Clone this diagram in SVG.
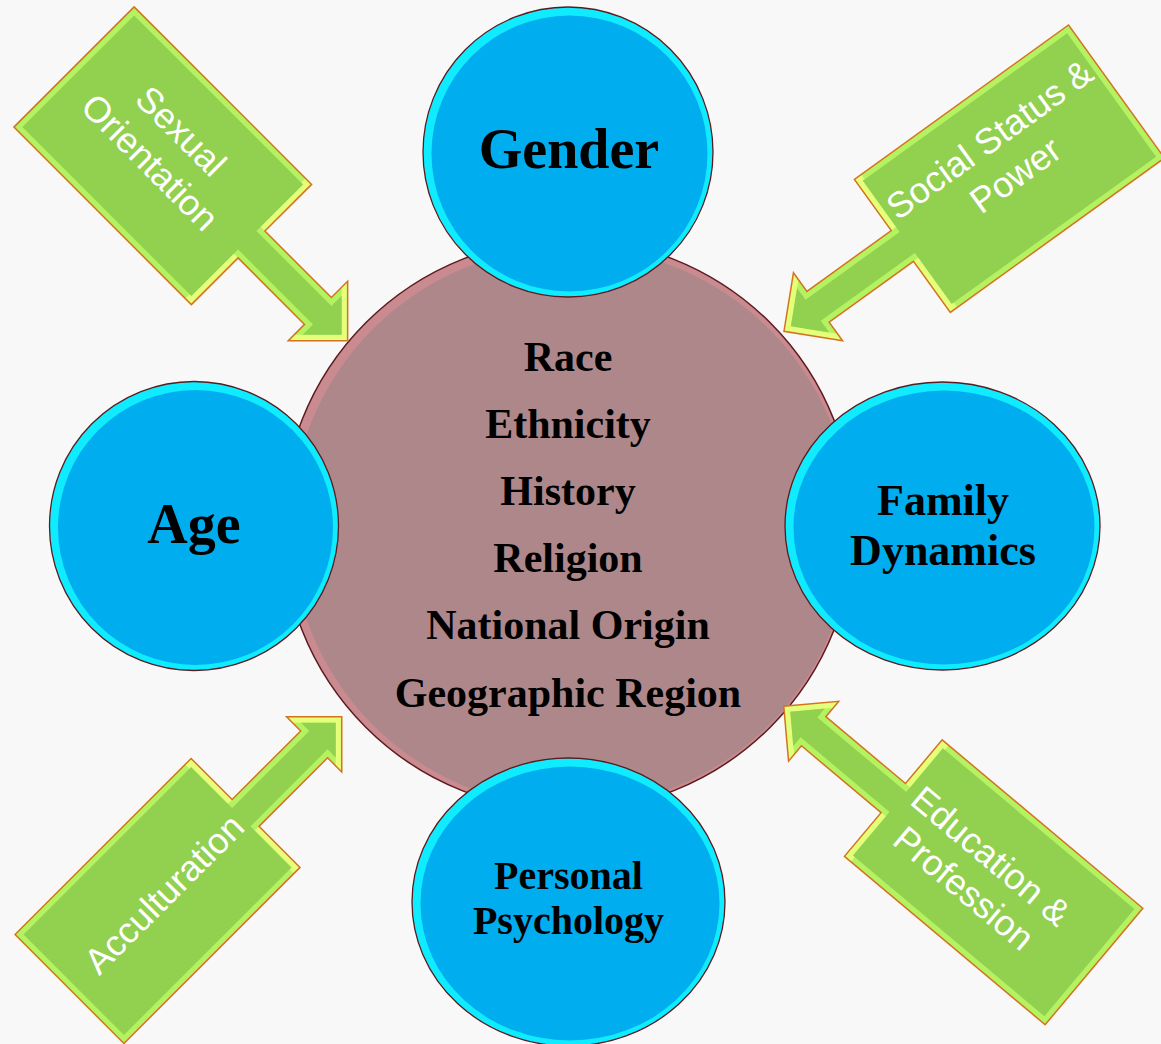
<svg xmlns="http://www.w3.org/2000/svg" xmlns:xlink="http://www.w3.org/1999/xlink" width="1161" height="1044" viewBox="0 0 1161 1044">
<style>
.rim{fill:#10ECFF;stroke:#5A1A1E;stroke-width:1.3}
.blue{fill:#00AEEF}
.lbl{font-family:"Liberation Serif","Times New Roman",serif;font-weight:bold;fill:#000;text-anchor:middle}
.call{font-family:"Liberation Sans",Arial,sans-serif;font-size:36px;fill:#fff;text-anchor:middle}
.bev-y{fill:#E4FF7A}
.bev-g{fill:#B4F262}
.face{fill:#92D050}
.edge{fill:none;stroke:#D4731F;stroke-width:1.5;stroke-linejoin:miter}
</style>
<defs>
<polygon id="o1" points="0,-85 251,-85 251,-19 345,-19 345,-42 387,0 345,42 345,19 251,19 251,85 0,85"/>
<polygon id="o2" points="0,-82 264,-82 264,-19 368,-19 368,-42 410,0 368,42 368,19 264,19 264,82 0,82"/>
<polygon id="o3" points="0,-77 249,-77 249,-19 346,-19 346,-39 385,0 346,39 346,19 249,19 249,77 0,77"/>
<polygon id="o4" points="0,-76 262,-76 262,-19 366,-19 366,-39 405,0 366,39 366,19 262,19 262,76 0,76"/>
<clipPath id="c1"><use xlink:href="#o1" href="#o1"/></clipPath>
<clipPath id="c2"><use xlink:href="#o2" href="#o2"/></clipPath>
<clipPath id="c3"><use xlink:href="#o3" href="#o3"/></clipPath>
<clipPath id="c4"><use xlink:href="#o4" href="#o4"/></clipPath>
</defs>
<rect x="0" y="0" width="1161" height="1044" fill="#F8F8F8"/>

<g id="center-circle">
<circle cx="568" cy="525" r="286" fill="#C98A90" stroke="#5C1A1E" stroke-width="1.5"/>
<circle cx="571" cy="527" r="280" fill="#AE878B"/>
<text class="lbl" font-size="42" x="568" y="371">Race</text>
<text class="lbl" font-size="42" x="568" y="438">Ethnicity</text>
<text class="lbl" font-size="42" x="568" y="505">History</text>
<text class="lbl" font-size="42" x="568" y="572">Religion</text>
<text class="lbl" font-size="42" x="568" y="639">National Origin</text>
<text class="lbl" font-size="42" x="568" y="707">Geographic Region</text>
</g>

<g id="gender">
<circle class="rim" cx="568" cy="152" r="145"/>
<circle class="blue" cx="569.5" cy="153.5" r="138"/>
<text class="lbl" font-size="56" x="569" y="168">Gender</text>
</g>

<g id="age">
<circle class="rim" cx="194" cy="526" r="144.5"/>
<circle class="blue" cx="195.5" cy="527.5" r="137.5"/>
<text class="lbl" font-size="56" x="194" y="543">Age</text>
</g>

<g id="family-dynamics">
<ellipse class="rim" cx="942.5" cy="526" rx="157.5" ry="144"/>
<ellipse class="blue" cx="944" cy="527.5" rx="150.5" ry="137"/>
<text class="lbl" font-size="44" x="943" y="515">Family</text>
<text class="lbl" font-size="44" x="943" y="565">Dynamics</text>
</g>

<g id="personal-psychology">
<ellipse class="rim" cx="568.5" cy="902" rx="156.5" ry="144"/>
<ellipse class="blue" cx="570" cy="903.5" rx="149.5" ry="137"/>
<text class="lbl" font-size="40" x="568.5" y="889">Personal</text>
<text class="lbl" font-size="40" x="568.5" y="934">Psychology</text>
</g>

<g id="callouts">
<g id="sexual-orientation" transform="translate(74,67) rotate(45)">
<use class="bev-y" xlink:href="#o1" href="#o1"/>
<g clip-path="url(#c1)"><use class="bev-g" xlink:href="#o1" href="#o1" transform="translate(-8.5,0)"/></g>
<polygon class="face" points="6,-79 245,-79 245,-13 351,-13 351,-27.5 378.5,0 351,27.5 351,13 245,13 245,79 6,79"/>
<use class="edge" xlink:href="#o1" href="#o1"/>
<text class="call" x="121"><tspan x="121" y="-18">Sexual</tspan><tspan x="121" y="26">Orientation</tspan></text>
</g>

<g id="social-status-power" transform="translate(1116.5,91.5) rotate(144.2)">
<use class="bev-y" xlink:href="#o2" href="#o2"/>
<g clip-path="url(#c2)"><use class="bev-g" xlink:href="#o2" href="#o2" transform="translate(-8.5,0)"/></g>
<polygon class="face" points="6,-76 258,-76 258,-13 374,-13 374,-27.5 401.5,0 374,27.5 374,13 258,13 258,76 6,76"/>
<use class="edge" xlink:href="#o2" href="#o2"/>
<g transform="translate(131,14) rotate(180)">
<text class="call"><tspan x="0" y="-9">Social Status &amp;</tspan><tspan x="0" y="35">Power</tspan></text>
</g>
</g>

<g id="acculturation" transform="translate(69.5,989) rotate(-45)">
<use class="bev-y" xlink:href="#o3" href="#o3"/>
<g clip-path="url(#c3)"><use class="bev-g" xlink:href="#o3" href="#o3" transform="translate(-8.5,0)"/></g>
<polygon class="face" points="6,-71 243,-71 243,-13 352,-13 352,-24.5 376.5,0 352,24.5 352,13 243,13 243,71 6,71"/>
<use class="edge" xlink:href="#o3" href="#o3"/>
<text class="call" x="134" y="12">Acculturation</text>
</g>

<g id="education-profession" transform="translate(1094,966.5) rotate(-140)">
<use class="bev-y" xlink:href="#o4" href="#o4"/>
<g clip-path="url(#c4)"><use class="bev-g" xlink:href="#o4" href="#o4" transform="translate(-8.5,0)"/></g>
<polygon class="face" points="6,-70 256,-70 256,-13 372,-13 372,-24.5 396.5,0 372,24.5 372,13 256,13 256,70 6,70"/>
<use class="edge" xlink:href="#o4" href="#o4"/>
<g transform="translate(150,-2) rotate(180)">
<text class="call"><tspan x="0" y="-8">Education &amp;</tspan><tspan x="0" y="34">Profession</tspan></text>
</g>
</g>
</g>
</svg>
